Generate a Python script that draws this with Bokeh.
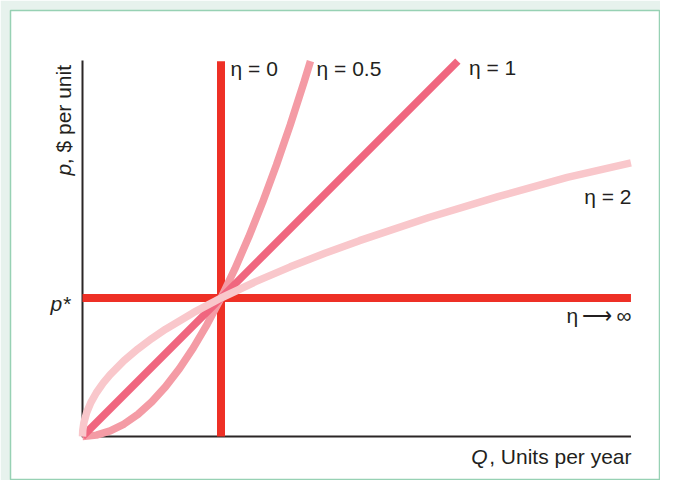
import numpy as np
from bokeh.plotting import figure
from bokeh.models import Range1d, Label
from bokeh.embed import file_html
from bokeh.resources import INLINE

# ---- data (Q* = 1, p* = 1) ----
q_star = 1.0
p_star = 1.0
q_max = 3.96
p_max = 2.71

# eta = 1 : straight line through origin
q_eta1 = [0.0, 2.71]
p_eta1 = [0.0, 2.71]

# eta = 0.5 : convex curve (p grows with Q^2)
q_eta05 = [0.0, 0.1, 0.2, 0.3, 0.4, 0.5, 0.6, 0.7, 0.8, 0.9, 1.0, 1.1, 1.2, 1.3, 1.4, 1.5, 1.6, 1.646]
p_eta05 = [0.0, 0.01, 0.04, 0.09, 0.16, 0.25, 0.36, 0.49, 0.64, 0.81, 1.0, 1.21, 1.44, 1.69, 1.96, 2.25, 2.56, 2.71]

# eta = 2 : concave curve (p grows with sqrt(Q))
q_eta2 = [0.0, 0.002, 0.01, 0.03, 0.06, 0.1, 0.15, 0.2, 0.3, 0.4, 0.5, 0.6, 0.8, 1.0, 1.25, 1.5, 1.75, 2.0, 2.5, 3.0, 3.5, 3.96]
p_eta2 = [0.0, 0.045, 0.1, 0.173, 0.245, 0.316, 0.387, 0.447, 0.548, 0.632, 0.707, 0.775, 0.894, 1.0, 1.118, 1.225, 1.323, 1.414, 1.581, 1.732, 1.871, 1.975]

labels = ["η = 0", "η = 0.5", "η = 1", "η = 2", "η\u2009⟶\u2009∞"]

RED = "#ee3026"
C1 = "#f0667f"
C05 = "#f49ba5"
C2 = "#f9c7cb"
AXIS = "#2b2626"
FONT = "Liberation Sans"
FS = "21px"

scale = 138.5
x0_px, y0_px = 82 - 10, 436 - 10   # origin inside frame
fw, fh = 650, 470

p = figure(width=660, height=480, output_backend="svg", toolbar_location=None,
           x_axis_location=None, y_axis_location=None,
           min_border_left=10, min_border_top=10, min_border_right=0, min_border_bottom=0,
           x_range=Range1d(-x0_px / scale, (fw - x0_px) / scale),
           y_range=Range1d(-(fh - y0_px) / scale, y0_px / scale))
p.grid.visible = False
p.background_fill_color = "white"
p.border_fill_color = "#e7f2ed"
p.outline_line_color = "#97d1b4"
p.outline_line_width = 1.5

# axes drawn as lines
p.line([0, 0], [0, p_max + 0.005], line_color=AXIS, line_width=2)
p.line([-0.005, q_max], [0, 0], line_color=AXIS, line_width=2)

# perfectly inelastic / elastic
p.line([q_star, q_star], [0, p_max], line_color=RED, line_width=8)
p.line([0, q_max], [p_star, p_star], line_color=RED, line_width=8)

p.line(q_eta05, p_eta05, line_color=C05, line_width=7.5)
p.line(q_eta1, p_eta1, line_color=C1, line_width=7.5)
p.line(q_eta2, p_eta2, line_color=C2, line_width=7.5)

def lab(x, y, t, align="left", style="normal", angle=0.0, size=FS):
    p.add_layout(Label(x=x, y=y, text=t, text_font=FONT, text_font_size=size,
                       text_color="#231f20", text_align=align, text_baseline="alphabetic",
                       text_font_style=style, angle=angle))

lab(1.069, 2.656, labels[0])
lab(1.69, 2.656, labels[1])
lab(2.79, 2.664, labels[2])
lab(3.964, 1.734, labels[3], align="right")
lab(3.964, 0.875, labels[4], align="right")

# p* on y axis
lab(-0.087, 0.96, "p*", align="right", style="italic")

# y axis title (rotated)
lab(-0.14, 1.884, "p", style="italic", angle=np.pi / 2)
lab(-0.14, 1.966, ", $ per unit", angle=np.pi / 2)

# x axis title
lab(3.964, -0.145, ", Units per year", align="right")
lab(2.924, -0.145, "Q", align="right", style="italic")

open("out.html", "w").write(file_html(p, INLINE))
